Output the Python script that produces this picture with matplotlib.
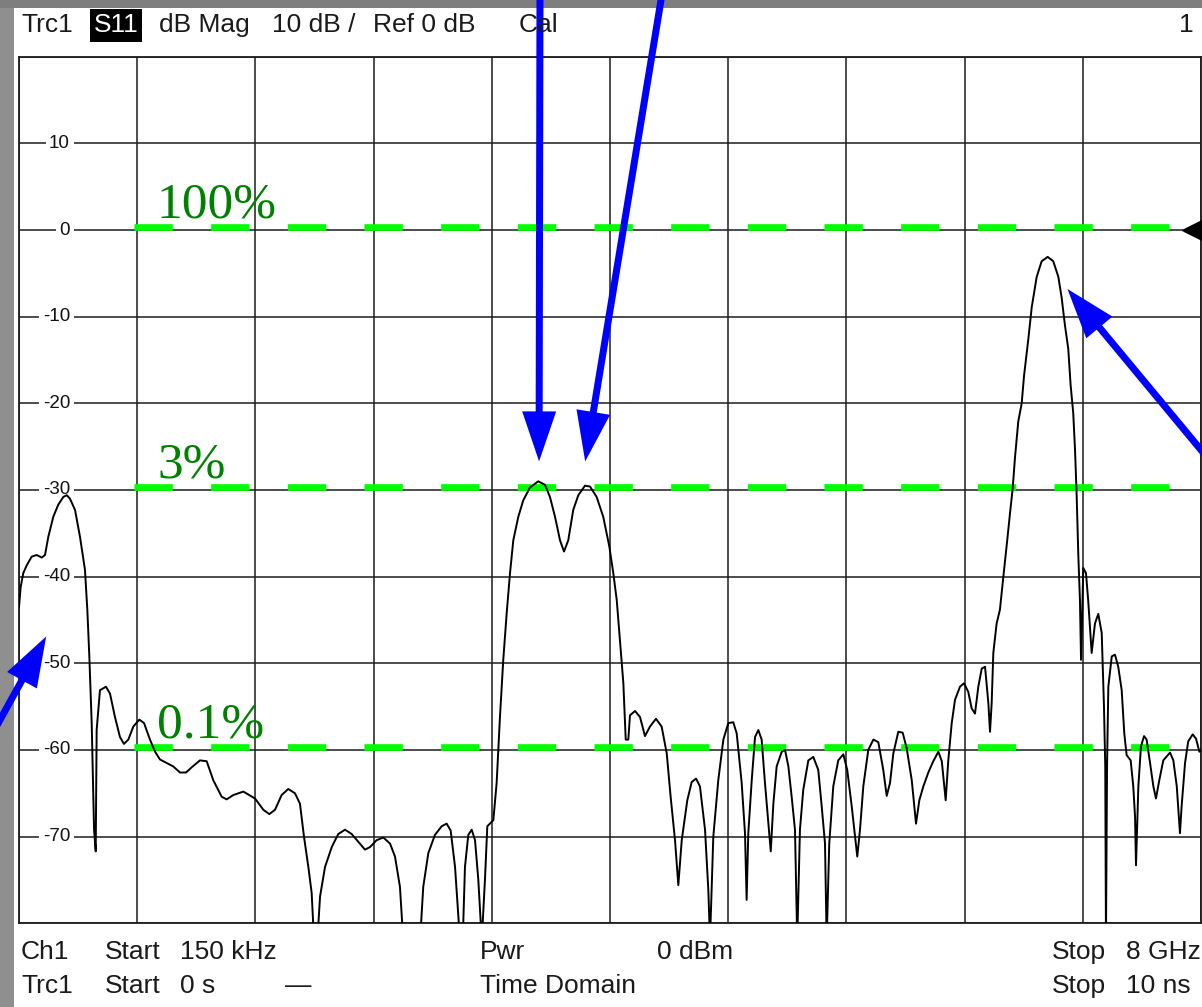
import matplotlib.pyplot as plt
from matplotlib.patches import FancyArrow, Rectangle
from matplotlib.transforms import ScaledTranslation, blended_transform_factory

# Time-domain S11 trace (t in ns, magnitude in dB)
time_ns = [
    0.000, 0.014, 0.036, 0.065, 0.107, 0.150, 0.192, 0.220, 0.248, 0.290,
    0.332, 0.375, 0.404, 0.431, 0.474, 0.516, 0.558, 0.578, 0.595, 0.615,
    0.635, 0.649, 0.657, 0.685, 0.736, 0.770, 0.812, 0.854, 0.888, 0.925,
    0.967, 1.018, 1.058, 1.108, 1.151, 1.193, 1.250, 1.305, 1.362, 1.413,
    1.461, 1.531, 1.588, 1.644, 1.715, 1.757, 1.813, 1.898, 1.997, 2.067,
    2.118, 2.166, 2.222, 2.278, 2.335, 2.377, 2.411, 2.448, 2.476, 2.496,
    2.524, 2.547, 2.589, 2.646, 2.701, 2.758, 2.815, 2.871, 2.927, 2.970,
    3.026, 3.082, 3.139, 3.181, 3.223, 3.251, 3.393, 3.420, 3.463, 3.519,
    3.576, 3.618, 3.652, 3.689, 3.731, 3.754, 3.773, 3.801, 3.830, 3.858,
    3.886, 3.915, 3.942, 3.962, 4.013, 4.041, 4.069, 4.097, 4.126, 4.154,
    4.182, 4.224, 4.266, 4.323, 4.393, 4.450, 4.492, 4.535, 4.577, 4.611,
    4.647, 4.689, 4.732, 4.788, 4.831, 4.887, 4.943, 4.994, 5.028, 5.057,
    5.091, 5.113, 5.133, 5.155, 5.169, 5.212, 5.254, 5.296, 5.338, 5.389,
    5.437, 5.480, 5.513, 5.550, 5.578, 5.607, 5.654, 5.691, 5.728, 5.761,
    5.804, 5.832, 5.846, 5.874, 5.916, 5.959, 6.001, 6.043, 6.072, 6.114,
    6.142, 6.156, 6.170, 6.199, 6.227, 6.255, 6.283, 6.311, 6.340, 6.360,
    6.382, 6.410, 6.453, 6.481, 6.509, 6.537, 6.565, 6.584, 6.607, 6.635,
    6.678, 6.720, 6.762, 6.791, 6.819, 6.833, 6.855, 6.889, 6.931, 6.974,
    7.007, 7.045, 7.073, 7.092, 7.115, 7.143, 7.185, 7.228, 7.270, 7.312,
    7.341, 7.369, 7.397, 7.439, 7.476, 7.510, 7.553, 7.589, 7.617, 7.651,
    7.693, 7.735, 7.778, 7.807, 7.840, 7.862, 7.891, 7.919, 7.961, 7.995,
    8.031, 8.060, 8.088, 8.116, 8.145, 8.173, 8.201, 8.215, 8.229, 8.243,
    8.271, 8.299, 8.327, 8.356, 8.384, 8.407, 8.426, 8.454, 8.483, 8.503,
    8.539, 8.568, 8.610, 8.652, 8.703, 8.750, 8.793, 8.821, 8.849, 8.877,
    8.897, 8.919, 8.934, 8.948, 8.962, 8.976, 8.985, 9.004, 9.027, 9.046,
    9.075, 9.103, 9.131, 9.160, 9.179, 9.190, 9.196, 9.205, 9.216, 9.245,
    9.272, 9.300, 9.329, 9.351, 9.371, 9.405, 9.427, 9.442, 9.450, 9.470,
    9.492, 9.518, 9.540, 9.569, 9.597, 9.619, 9.647, 9.681, 9.738, 9.766,
    9.795, 9.822, 9.836, 9.865, 9.892, 9.930, 9.958, 9.986, 10.000,
]
s11_db = [
    -43.5, -41.2, -39.6, -38.7, -37.7, -37.5, -37.8, -37.5, -35.4, -33.1,
    -31.7, -30.8, -30.6, -31.0, -32.3, -35.4, -39.2, -43.8, -49.2, -56.9,
    -69.2, -71.7, -57.7, -53.1, -52.7, -53.5, -56.2, -58.5, -59.3, -58.8,
    -57.3, -56.5, -56.9, -58.8, -60.2, -61.1, -61.5, -61.9, -62.6, -62.6,
    -62.0, -61.2, -61.3, -63.5, -65.4, -65.7, -65.2, -64.8, -65.6, -66.9,
    -67.4, -66.9, -65.2, -64.5, -65.0, -66.2, -70.0, -73.5, -76.5, -82.0,
    -82.0, -76.9, -73.5, -71.2, -69.7, -69.2, -69.7, -70.6, -71.5, -71.2,
    -70.4, -70.1, -70.8, -72.3, -75.8, -82.0, -82.0, -75.8, -71.9, -69.8,
    -68.8, -68.5, -69.3, -73.5, -82.0, -82.0, -73.5, -69.8, -69.2, -70.4,
    -75.0, -82.0, -75.0, -68.8, -68.1, -63.8, -56.2, -49.6, -44.2, -39.6,
    -35.8, -33.1, -31.2, -29.7, -29.0, -29.4, -30.8, -33.1, -35.8, -37.1,
    -35.8, -32.3, -30.6, -29.5, -29.6, -30.8, -33.1, -36.5, -39.6, -42.7,
    -48.5, -52.3, -58.8, -58.8, -56.0, -55.5, -56.2, -58.4, -57.3, -56.4,
    -57.3, -60.4, -65.4, -70.4, -75.6, -70.4, -65.8, -63.7, -63.3, -64.2,
    -69.2, -76.2, -82.0, -70.0, -63.5, -58.8, -56.9, -56.8, -58.1, -63.8,
    -69.6, -77.3, -69.6, -63.5, -58.5, -57.7, -58.8, -63.8, -68.5, -71.7,
    -66.2, -61.9, -60.2, -60.0, -61.9, -65.4, -69.2, -82.0, -69.2, -64.6,
    -61.2, -60.8, -62.3, -66.5, -70.8, -82.0, -70.8, -64.2, -61.2, -60.5,
    -62.3, -66.5, -70.0, -72.3, -69.2, -64.2, -60.0, -58.8, -59.1, -62.3,
    -65.3, -63.8, -60.4, -57.9, -58.0, -59.8, -63.5, -68.5, -65.8, -64.2,
    -62.6, -61.3, -60.2, -61.3, -65.8, -61.2, -56.9, -54.2, -52.7, -52.3,
    -53.3, -55.2, -55.8, -52.7, -50.6, -50.4, -54.6, -57.9, -54.6, -48.8,
    -45.4, -43.8, -40.1, -36.4, -32.7, -29.8, -26.3, -22.1, -20.0, -16.8,
    -12.6, -8.9, -5.4, -3.6, -3.1, -3.6, -5.4, -7.8, -11.0, -13.7,
    -17.9, -21.1, -25.3, -30.6, -37.5, -42.8, -49.6, -39.0, -39.6, -42.8,
    -48.8, -45.4, -44.3, -46.5, -54.9, -61.9, -82.0, -62.0, -52.7, -49.2,
    -49.0, -50.4, -53.1, -58.1, -60.6, -61.2, -64.2, -67.7, -73.3, -64.2,
    -59.6, -58.4, -58.8, -61.5, -64.2, -65.6, -63.5, -61.2, -60.3, -61.2,
    -64.2, -69.6, -66.5, -61.5, -59.0, -58.2, -58.7, -60.2, -60.0,
]

y_ticks = [10, 0, -10, -20, -30, -40, -50, -60, -70]

# reflection level guides
guide_levels = [0, -30, -60]
guide_labels = ["100%", "3%", "0.1%"]
guide_start, guide_end = 0.97, 9.73

# arrows point at trace features (ns, dB); tails sit in image pixels
arrow_tips = [(4.40, -26.7), (4.79, -26.7), (8.87, -6.8), (0.23, -46.9)]
arrow_tails = [(540, -12), (663, -12), (1216, 468), (-10, 738)]

W, H = 1202, 1007
BLUE = "#0000ff"

plt.rcParams["font.family"] = ["Liberation Sans", "DejaVu Sans"]
fig = plt.figure(figsize=(W / 100, H / 100), dpi=100, facecolor="white")

ax = fig.add_axes([19 / W, (H - 923.3) / H, 1182 / W, 866.6 / H])
ax.set_xlim(0, 10)
ax.set_ylim(-80, 20)
ax.set_xticks(range(11))
ax.set_yticks(range(-80, 21, 10))
ax.tick_params(length=0, labelbottom=False, labelleft=False)
ax.grid(True, color="#1c1c1c", lw=1.1)
ax.set_axisbelow(True)
for sp in ax.spines.values():
    sp.set_color("#1c1c1c")
    sp.set_linewidth(1.3)

# y scale labels sit inside the grid, breaking the lines
lab_tf = blended_transform_factory(ax.transAxes, ax.transData)
for v in y_ticks:
    ax.text(51 / 1182, v, f"{v}", transform=lab_tf, ha="right", va="center",
            fontsize=13.5, color="#111111", zorder=2,
            bbox=dict(fc="white", ec="none", pad=2.5))

# green guide lines, nudged up a few pixels like the instrument draws them
lift = ax.transData + ScaledTranslation(0, 3 / 100, fig.dpi_scale_trans)
for lvl, lab in zip(guide_levels, guide_labels):
    ax.plot([guide_start, guide_end], [lvl, lvl], color="#00ff00", lw=4.8,
            linestyle=(0, (5.75, 5.75)), dash_capstyle="butt",
            transform=lift, zorder=3)
    ax.annotate(lab, (1.167, lvl), xytext=(0, 9), textcoords="offset points",
                fontsize=37, family="Liberation Serif", color="#008000",
                va="baseline", ha="left", zorder=4)

ax.plot(time_ns, s11_db, color="black", lw=1.4, zorder=5)
ax.plot([9.925], [0], marker="<", ms=14, color="black", clip_on=False, zorder=6)

# pixel overlay for frame, header box and arrows
ov = fig.add_axes([0, 0, 1, 1], facecolor="none")
ov.set_xlim(0, W)
ov.set_ylim(H, 0)
ov.axis("off")
ov.add_patch(Rectangle((0, 0), 14, H, color="#8f8f8f", lw=0))
ov.add_patch(Rectangle((0, 0), W, 8, color="#7e7e7e", lw=0))
ov.add_patch(Rectangle((90, 9), 52, 33, color="black", lw=0))

for tip, tail in zip(arrow_tips, arrow_tails):
    tx, ty = ov.transData.inverted().transform(ax.transData.transform(tip))
    ov.add_patch(FancyArrow(tail[0], tail[1], tx - tail[0], ty - tail[1],
                            width=7, head_width=34, head_length=50,
                            length_includes_head=True, color=BLUE, lw=0))

txt = dict(fontsize=19, color="#1a1a1a", va="center")
ov.text(21, 25, "Trc1", **txt)
ov.text(116, 25, "S11", ha="center", fontsize=19, color="white", va="center")
ov.text(159, 25, "dB Mag", **txt)
ov.text(272, 25, "10 dB /", **txt)
ov.text(373, 25, "Ref 0 dB", **txt)
ov.text(519, 25, "Cal", **txt)
ov.text(1194, 25, "1", ha="right", **txt)

ov.text(21, 952, "Ch1", **txt)
ov.text(105, 952, "Start", **txt)
ov.text(180, 952, "150 kHz", **txt)
ov.text(480, 952, "Pwr", **txt)
ov.text(657, 952, "0 dBm", **txt)
ov.text(1052, 952, "Stop", **txt)
ov.text(1126, 952, "8 GHz", **txt)
ov.text(21, 986, "Trc1", **txt)
ov.text(105, 986, "Start", **txt)
ov.text(180, 986, "0 s", **txt)
ov.text(285, 986, "\u2014", **txt)
ov.text(480, 986, "Time Domain", **txt)
ov.text(1052, 986, "Stop", **txt)
ov.text(1126, 986, "10 ns", **txt)

fig.savefig("out.png", dpi=100, facecolor="white")
